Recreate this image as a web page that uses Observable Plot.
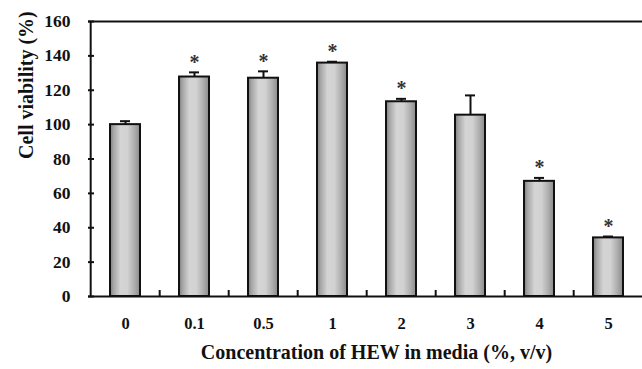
<!DOCTYPE html>
<html>
<head>
<meta charset="utf-8">
<script src="https://cdn.jsdelivr.net/npm/d3@7"></script>
<script src="https://cdn.jsdelivr.net/npm/@observablehq/plot@0.6"></script>
<style>
  body { margin: 0; background: #fff; }
  #chart svg { display: block; }
</style>
</head>
<body>
<div id="chart"></div>
<script>
const categories = ["0", "0.1", "0.5", "1", "2", "3", "4", "5"];
const viability = [100, 127.7, 127, 135.8, 113.3, 105.5, 67, 34.1];
const errors = [2, 2.7, 4, 0.8, 1.7, 11.5, 2, 0.8];
const significant = [false, true, true, true, true, false, true, true];
const yTicks = [0, 20, 40, 60, 80, 100, 120, 140, 160];
const xTitle = "Concentration of HEW in media (%, v/v)";
const yTitle = "Cell viability (%)";

const data = categories.map((c, i) => ({cat: c, value: viability[i], err: errors[i], sig: significant[i]}));

const W = 642, H = 369;
const xRange = [88, 645];
const step = (xRange[1] - xRange[0]) / categories.length;

const gradientDefs = () => {
  const defs = d3.create("svg:defs");
  const g = defs.append("linearGradient").attr("id", "barGrad").attr("x1", "0").attr("x2", "1").attr("y1", "0").attr("y2", "0");
  [["0%", "#7e7e7e"], ["12%", "#a6a6a6"], ["35%", "#d4d4d4"], ["58%", "#d2d2d2"], ["82%", "#acacac"], ["100%", "#8a8a8a"]]
    .forEach(([o, c]) => g.append("stop").attr("offset", o).attr("stop-color", c));
  return defs.node();
};

const chart = Plot.plot({
  width: W,
  height: H,
  marginLeft: 88,
  marginRight: 0,
  marginTop: 21,
  marginBottom: 73,
  style: {fontFamily: "'Liberation Serif', 'Times New Roman', serif", fontSize: "16px", fontWeight: "bold", color: "#111", background: "#fff"},
  x: {domain: categories, range: xRange, paddingInner: 0.57, paddingOuter: 0.285, label: null},
  y: {domain: [0, 160], label: null},
  marks: [
    gradientDefs,
    Plot.barY(data, {x: "cat", y: "value", fill: "url(#barGrad)", stroke: "#111", strokeWidth: 2}),
    Plot.ruleX(data, {x: "cat", y1: "value", y2: d => d.value + d.err, stroke: "#111", strokeWidth: 2}),
    Plot.tickY(data, {x: "cat", y: d => d.value + d.err, insetLeft: 10, insetRight: 10, stroke: "#111", strokeWidth: 2}),
    Plot.text(data.filter(d => d.sig), {x: "cat", y: d => d.value + d.err, text: () => "*", dy: -10, fontSize: 20, fill: "#333"}),
    Plot.ruleY([0, 160], {y: d => d, stroke: "#111", strokeWidth: 2}),
    Plot.ruleX([categories[0]], {x: d => d, dx: -step / 2, y1: 0, y2: 160, stroke: "#111", strokeWidth: 2}),
    Plot.ruleX(categories.slice(1), {x: d => d, dx: -step / 2, y1: 0, y2: 3.5, stroke: "#111", strokeWidth: 2}),
    Plot.axisY(yTicks, {tickSize: 6, dx: 6, tickFormat: () => "", strokeWidth: 2, stroke: "#111", label: null}),
    Plot.axisY(yTicks, {tickSize: 0, tickPadding: 18, fontSize: 17.5, label: null}),
    Plot.axisX({tickSize: 0, tickPadding: 21, fontSize: 16.5, label: null}),
    Plot.text([yTitle], {text: d => d, frameAnchor: "left", rotate: -90, dx: -62, fontSize: 20, fill: "#111"}),
    Plot.text([xTitle], {text: d => d, frameAnchor: "bottom", dx: 11, dy: 62, fontSize: 20, fill: "#111"})
  ]
});
document.getElementById("chart").appendChild(chart);
</script>
</body>
</html>
